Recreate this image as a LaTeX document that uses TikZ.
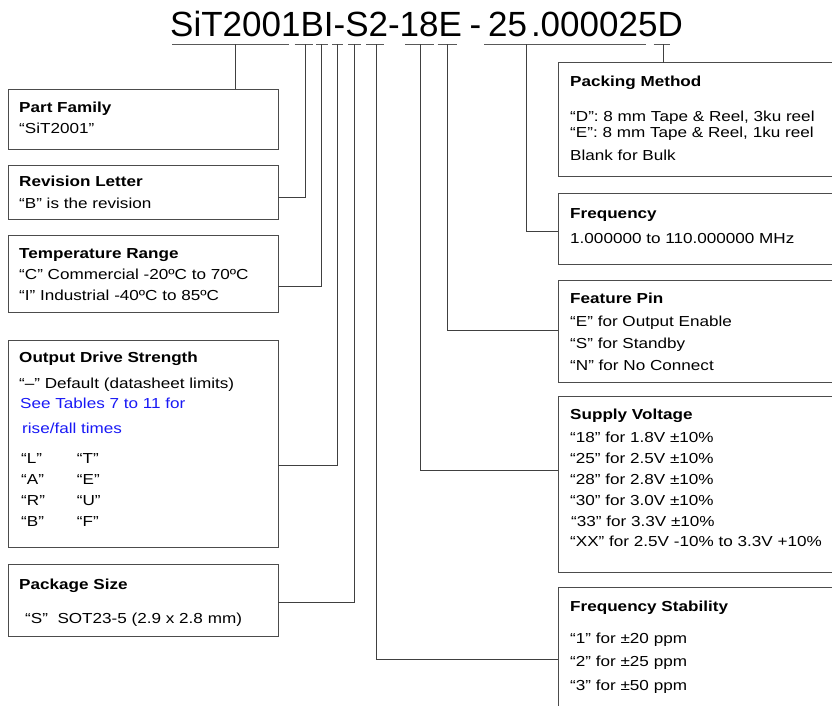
\documentclass[tikz,border=0pt]{standalone}
\usepackage{fontspec}
\setmainfont{Liberation Sans}
\newfontfamily\boxfont[FakeStretch=1.18]{Liberation Sans}
\usetikzlibrary{calc,positioning}
\definecolor{linkblue}{RGB}{25,25,245}

\begin{document}
\begin{tikzpicture}[x=1pt,y=-1pt]
	\tikzstyle{field}=[draw=black!70, line width=0.8pt, rectangle, inner sep=0pt, outer sep=0pt, minimum width=290pt, anchor=north west]
	\tikzstyle{ttl}=[font=\boxfont\fontsize{14.5}{17}\selectfont\bfseries, inner sep=0pt, anchor=base west]
	\tikzstyle{txt}=[font=\boxfont\fontsize{14.5}{17}\selectfont, inner sep=0pt, anchor=base west]
	\tikzstyle{uline}=[draw=black!65, line width=1pt]
	\tikzstyle{wire}=[draw=black!75, line width=0.8pt]

	\clip (0,0) rectangle (832,705);

	\node (code) [inner sep=0pt, anchor=base west, font=\fontsize{35}{40}\selectfont] at (170,36) {SiT2001BI-S2-18E\kern-2pt\ -\ \kern-3pt25\kern4pt.000025D};

	% underline under each field of the part number
	\foreach \a/\b/\t/\n in {172/289/235/fam, 294.6/312.5/305/rev, 316/327.5/321.7/temp, 332/343/337.7/drive, 348/360.7/354/pkg, 366/384/376/stab, 405/434/420/volt, 437.5/457/447.5/feat, 484/646/526/freq, 653.6/669.6/663/pack} {
		\draw[uline] (\a,44) -- (\b,44);
		\coordinate (t\n) at (\t,44);
	}

	% left column
	\node (fam) [field, minimum width=270pt, minimum height=60pt] at (8,89) {};
	\node (rev) [field, minimum width=270pt, minimum height=54pt, below=16pt of fam.south west, anchor=north west] {};
	\node (temp) [field, minimum width=270pt, minimum height=77pt, below=16.7pt of rev.south west, anchor=north west] {};
	\node (drive) [field, minimum width=270pt, minimum height=207pt, below=27.3pt of temp.south west, anchor=north west] {};
	\node (pkg) [field, minimum width=270pt, minimum height=72pt, below=17pt of drive.south west, anchor=north west] {};

	\node [ttl] at ([shift={(11,23.5)}]fam.north west) {Part Family};
	\node [txt] at ([shift={(11,44.5)}]fam.north west) {“SiT2001”};

	\node [ttl] at ([shift={(11,21)}]rev.north west) {Revision Letter};
	\node [txt] at ([shift={(11,43)}]rev.north west) {“B” is the revision};

	\node [ttl] at ([shift={(11,22.6)}]temp.north west) {Temperature Range};
	\node [txt] at ([shift={(11,43.6)}]temp.north west) {“C” Commercial -20ºC to 70ºC};
	\node [txt] at ([shift={(11,64.8)}]temp.north west) {“I” Industrial -40ºC to 85ºC};

	\node [ttl] at ([shift={(11,22)}]drive.north west) {Output Drive Strength};
	\node [txt] at ([shift={(11,48)}]drive.north west) {“–” Default (datasheet limits)};
	\node [txt, text=linkblue] at ([shift={(12,68)}]drive.north west) {See Tables 7 to 11 for};
	\node [txt, text=linkblue] at ([shift={(14,93)}]drive.north west) {rise/fall times};
	\node [txt] at ([shift={(13,123)}]drive.north west) {“L”};
	\node [txt] at ([shift={(13,144.5)}]drive.north west) {“A”};
	\node [txt] at ([shift={(13,165.5)}]drive.north west) {“R”};
	\node [txt] at ([shift={(13,186)}]drive.north west) {“B”};
	\node [txt] at ([shift={(68.7,123)}]drive.north west) {“T”};
	\node [txt] at ([shift={(68.7,144.5)}]drive.north west) {“E”};
	\node [txt] at ([shift={(68.7,165.5)}]drive.north west) {“U”};
	\node [txt] at ([shift={(68.7,186)}]drive.north west) {“F”};

	\node [ttl] at ([shift={(11,25)}]pkg.north west) {Package Size};
	\node [txt] at ([shift={(17,59)}]pkg.north west) {“S”\ \ SOT23-5 (2.9 x 2.8 mm)};

	% right column
	\node (pack) [field, minimum height=114pt] at (558,62.7) {};
	\node (freq) [field, minimum height=71pt, below=16.3pt of pack.south west, anchor=north west] {};
	\node (feat) [field, minimum height=102.7pt, below=16pt of freq.south west, anchor=north west] {};
	\node (volt) [field, minimum height=176pt, below=14pt of feat.south west, anchor=north west] {};
	\node (stab) [field, minimum height=140pt, below=14.6pt of volt.south west, anchor=north west] {};

	\node [ttl] at ([shift={(12,23.3)}]pack.north west) {Packing Method};
	\node [txt] at ([shift={(12,58.3)}]pack.north west) {“D”: 8 mm Tape \& Reel, 3ku reel};
	\node [txt] at ([shift={(12,74.5)}]pack.north west) {“E”: 8 mm Tape \& Reel, 1ku reel};
	\node [txt] at ([shift={(12,97.3)}]pack.north west) {Blank for Bulk};

	\node [ttl] at ([shift={(12,25)}]freq.north west) {Frequency};
	\node [txt] at ([shift={(12,50)}]freq.north west) {1.000000 to 110.000000 MHz};

	\node [ttl] at ([shift={(12,23)}]feat.north west) {Feature Pin};
	\node [txt] at ([shift={(12,46)}]feat.north west) {“E” for Output Enable};
	\node [txt] at ([shift={(12,68)}]feat.north west) {“S” for Standby};
	\node [txt] at ([shift={(12,90)}]feat.north west) {“N” for No Connect};

	\node [ttl] at ([shift={(12,22.3)}]volt.north west) {Supply Voltage};
	\node [txt] at ([shift={(12,45.3)}]volt.north west) {“18” for 1.8V ±10\%};
	\node [txt] at ([shift={(12,66.3)}]volt.north west) {“25” for 2.5V ±10\%};
	\node [txt] at ([shift={(12,87.3)}]volt.north west) {“28” for 2.8V ±10\%};
	\node [txt] at ([shift={(12,108.3)}]volt.north west) {“30” for 3.0V ±10\%};
	\node [txt] at ([shift={(13,129.3)}]volt.north west) {“33” for 3.3V ±10\%};
	\node [txt] at ([shift={(12,149.3)}]volt.north west) {“XX” for 2.5V -10\% to 3.3V +10\%};

	\node [ttl] at ([shift={(12,23.7)}]stab.north west) {Frequency Stability};
	\node [txt] at ([shift={(12,55.7)}]stab.north west) {“1” for ±20 ppm};
	\node [txt] at ([shift={(12,78.7)}]stab.north west) {“2” for ±25 ppm};
	\node [txt] at ([shift={(12,102.7)}]stab.north west) {“3” for ±50 ppm};

	% connectors
	\draw[wire] (tfam) -- (tfam |- fam.north);
	\draw[wire] (trev) |- ($(rev.north east)!.605!(rev.south east)$);
	\draw[wire] (ttemp) |- ($(temp.north east)!.653!(temp.south east)$);
	\draw[wire] (tdrive) |- ($(drive.north east)!.607!(drive.south east)$);
	\draw[wire] (tpkg) |- ($(pkg.north east)!.54!(pkg.south east)$);
	\draw[wire] (tstab) |- ($(stab.north west)!.512!(stab.south west)$);
	\draw[wire] (tvolt) |- ($(volt.north west)!.416!(volt.south west)$);
	\draw[wire] (tfeat) |- ($(feat.north west)!.494!(feat.south west)$);
	\draw[wire] (tfreq) |- ($(freq.north west)!.545!(freq.south west)$);
	\draw[wire] (tpack) -- (tpack |- pack.north);
\end{tikzpicture}
\end{document}
